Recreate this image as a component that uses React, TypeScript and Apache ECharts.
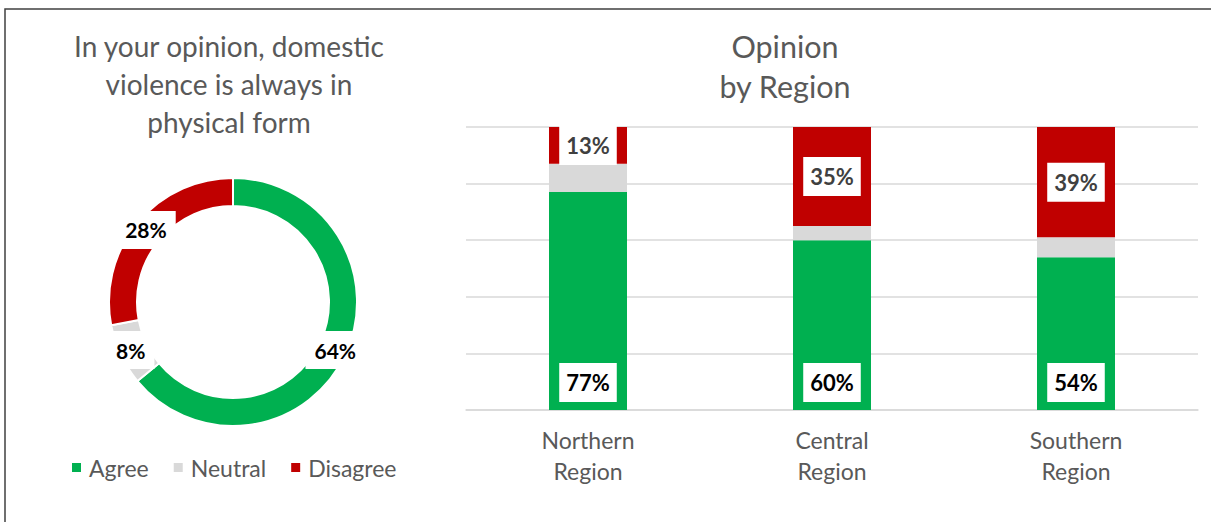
import React, { useEffect, useRef } from "react";
import * as echarts from "echarts";

const pieTitle = "In your opinion, domestic\nviolence is always in\nphysical form";
const barTitle = "Opinion\nby Region";
const answers = ["Agree", "Neutral", "Disagree"];
const answerColors = ["#00b050", "#d9d9d9", "#c00000"];
const pieValues = [64, 8, 28];
const regions = ["Northern\nRegion", "Central\nRegion", "Southern\nRegion"];
const agreeByRegion = [77, 60, 54];
const neutralByRegion = [10, 5, 7];
const disagreeByRegion = [13, 35, 39];

const FONT = "Lato, 'Open Sans', sans-serif";

export default function App() {
  const ref = useRef<HTMLDivElement>(null);
  useEffect(() => {
    if (!ref.current) return;
    const chart = echarts.init(ref.current, undefined, { renderer: "svg" });
    const boxLabel = (
      color: string,
      position: string,
      size: number,
      padding: number[],
      distance?: number
    ) => ({
      show: true,
      position,
      distance,
      formatter: "{c}%",
      backgroundColor: "#ffffff",
      padding,
      lineHeight: size + 1,
      fontSize: size,
      fontWeight: "bold",
      fontFamily: FONT,
      color,
    });
    const barSeries = [agreeByRegion, neutralByRegion, disagreeByRegion].map((vals, i) => ({
      name: answers[i],
      type: "bar",
      stack: "total",
      barWidth: 78,
      data: vals,
      itemStyle: { color: answerColors[i] },
      label:
        i === 0
          ? boxLabel("#000000", "insideBottom", 22, [8, 7], 8)
          : i === 2
          ? boxLabel("#404040", "inside", 22, [8, 7])
          : { show: false },
      emphasis: { disabled: true },
    }));
    chart.setOption({
      animation: false,
      textStyle: { fontFamily: FONT },
      graphic: [
        {
          type: "rect",
          shape: { x: 5, y: 9, width: 1400, height: 800 },
          style: { fill: "none", stroke: "#404040", lineWidth: 1.5 },
          silent: true,
        },
        {
          type: "text",
          x: 229,
          y: 27,
          style: {
            text: pieTitle,
            textAlign: "center",
            textVerticalAlign: "top",
            fontSize: 28,
            lineHeight: 38,
            fontFamily: FONT,
            fill: "#595959",
          },
        },
        {
          type: "text",
          x: 785,
          y: 26,
          style: {
            text: barTitle,
            textAlign: "center",
            textVerticalAlign: "top",
            fontSize: 30.5,
            lineHeight: 40,
            fontFamily: FONT,
            fill: "#595959",
          },
        },
      ],
      legend: {
        data: answers,
        left: 67,
        top: 451,
        icon: "rect",
        itemWidth: 9,
        itemHeight: 9,
        itemGap: 25,
        textStyle: {
          fontSize: 23,
          color: "#595959",
          fontFamily: FONT,
          padding: [0, 0, 0, 3],
        },
        selectedMode: false,
      },
      grid: { left: 466, right: 13, top: 127, bottom: 112 },
      xAxis: {
        type: "category",
        data: regions,
        axisLine: { show: true, lineStyle: { color: "#d9d9d9", width: 1.5 } },
        axisTick: { show: false },
        axisLabel: {
          fontSize: 23,
          lineHeight: 31,
          color: "#595959",
          margin: 14,
          fontFamily: FONT,
        },
      },
      yAxis: {
        type: "value",
        min: 0,
        max: 100,
        interval: 20,
        axisLabel: { show: false },
        axisLine: { show: false },
        axisTick: { show: false },
        splitLine: { lineStyle: { color: "#d9d9d9", width: 1.5 } },
      },
      series: [
        {
          name: "Opinion",
          type: "pie",
          center: [233, 302],
          radius: [96, 124],
          startAngle: 90,
          clockwise: true,
          data: answers.map((n, i) => ({
            name: n,
            value: pieValues[i],
            itemStyle: { color: answerColors[i] },
          })),
          itemStyle: { borderColor: "#ffffff", borderWidth: 2 },
          label: { ...boxLabel("#000000", "inside", 21, [8, 9]) },
          labelLine: { show: false },
          emphasis: { disabled: true },
        },
        ...barSeries,
      ],
    });
    return () => chart.dispose();
  }, []);
  return (
    <div
      ref={ref}
      style={{ position: "fixed", left: 0, top: 0, width: 1211, height: 522, background: "#fff" }}
    />
  );
}
